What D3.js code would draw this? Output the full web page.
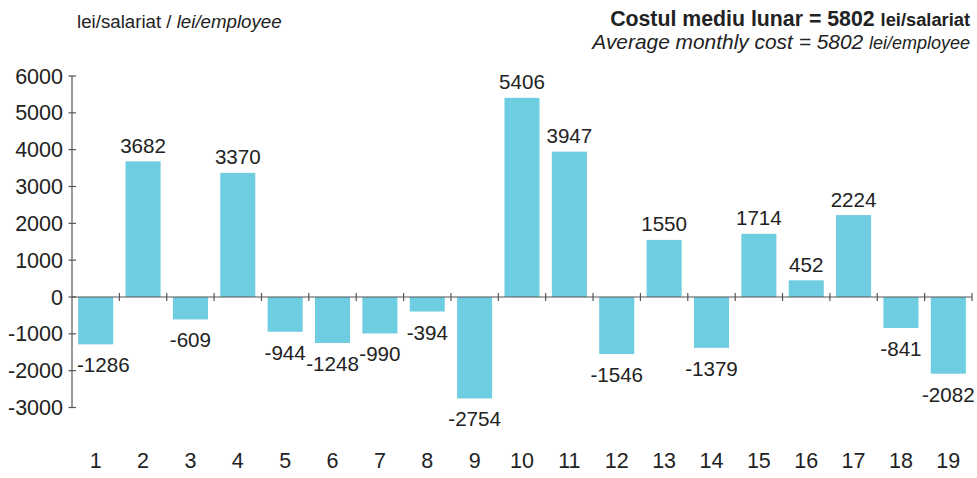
<!DOCTYPE html>
<html>
<head>
<meta charset="utf-8">
<script src="https://cdn.jsdelivr.net/npm/d3@7"></script>
<style>
  body { margin: 0; background: #fff; }
  svg text { font-family: "Liberation Sans", Arial, sans-serif; fill: #222; }
</style>
</head>
<body>
<svg id="chart" width="977" height="478"></svg>
<script>
var categories = ['1','2','3','4','5','6','7','8','9','10','11','12','13','14','15','16','17','18','19'];
var values = [-1286, 3682, -609, 3370, -944, -1248, -990, -394, -2754, 5406, 3947, -1546, 1550, -1379, 1714, 452, 2224, -841, -2082];
var yTicks = [6000, 5000, 4000, 3000, 2000, 1000, 0, -1000, -2000, -3000];

var svg = d3.select('#chart');
var x = d3.scaleBand().domain(categories).range([72, 972]).paddingInner(0.26).paddingOuter(0.13);
var y = d3.scaleLinear().domain([-3000, 6000]).range([407.5, 76]);
var axisColor = '#555';
var numSize = 21.5;
var labelSize = 20.6;

// bars
svg.append('g').selectAll('rect')
  .data(values)
  .enter().append('rect')
  .attr('x', (d, i) => x(categories[i]))
  .attr('width', x.bandwidth())
  .attr('y', (d) => y(Math.max(0, d)))
  .attr('height', (d) => Math.abs(y(d) - y(0)))
  .attr('fill', '#6ecde0');

// value labels (pushed right if they would hit the y axis)
svg.append('g').selectAll('text')
  .data(values)
  .enter().append('text')
  .attr('x', (d, i) => x(categories[i]) + x.bandwidth() / 2)
  .attr('y', (d) => d >= 0 ? y(d) - 8.5 : y(d) + 28)
  .attr('text-anchor', 'middle')
  .attr('font-size', labelSize)
  .text((d) => d)
  .each(function() {
    var b = this.getBBox();
    if (b.x < 77) d3.select(this).attr('x', +this.getAttribute('x') + (77 - b.x));
  });

// y axis
var yAxis = svg.append('g');
yAxis.append('line')
  .attr('x1', 72).attr('x2', 72)
  .attr('y1', y(6000)).attr('y2', y(-3000))
  .attr('stroke', axisColor).attr('stroke-width', 1.2);
yAxis.selectAll('.tick')
  .data(yTicks)
  .enter().append('line')
  .attr('x1', 68.5).attr('x2', 76)
  .attr('y1', (d) => y(d)).attr('y2', (d) => y(d))
  .attr('stroke', axisColor).attr('stroke-width', 1.2);
yAxis.selectAll('text')
  .data(yTicks)
  .enter().append('text')
  .attr('x', 63)
  .attr('y', (d) => y(d) + 7.5)
  .attr('text-anchor', 'end')
  .attr('font-size', numSize)
  .text((d) => d);

// x axis (zero line) with ticks between bars
var xAxis = svg.append('g');
xAxis.append('line')
  .attr('x1', 72).attr('x2', 972)
  .attr('y1', y(0)).attr('y2', y(0))
  .attr('stroke', axisColor).attr('stroke-width', 1.2);
var step = x.step();
var boundaries = categories.slice(1).map((c) => x(c) - step * x.paddingInner() / 2).concat([972]);
xAxis.selectAll('.tick')
  .data(boundaries)
  .enter().append('line')
  .attr('x1', (d) => d).attr('x2', (d) => d)
  .attr('y1', y(0) - 4).attr('y2', y(0) + 4)
  .attr('stroke', axisColor).attr('stroke-width', 1.2);
xAxis.selectAll('text')
  .data(categories)
  .enter().append('text')
  .attr('x', (d) => x(d) + x.bandwidth() / 2)
  .attr('y', 468)
  .attr('text-anchor', 'middle')
  .attr('font-size', numSize)
  .text((d) => d);

// unit label
var unit = svg.append('text').attr('x', 77).attr('y', 28).attr('font-size', 18.7);
unit.append('tspan').text('lei/salariat / ');
unit.append('tspan').attr('font-style', 'italic').text('lei/employee');

// title
var t1 = svg.append('text').attr('x', 970).attr('y', 26).attr('text-anchor', 'end')
  .attr('font-weight', 'bold').attr('font-size', 21.3);
t1.append('tspan').text('Costul mediu lunar = 5802 ');
t1.append('tspan').attr('font-size', 18.3).text('lei/salariat');
var t2 = svg.append('text').attr('x', 970).attr('y', 49).attr('text-anchor', 'end')
  .attr('font-style', 'italic').attr('font-size', 20.9);
t2.append('tspan').text('Average monthly cost = 5802 ');
t2.append('tspan').attr('font-size', 18).text('lei/employee');
</script>
</body>
</html>
